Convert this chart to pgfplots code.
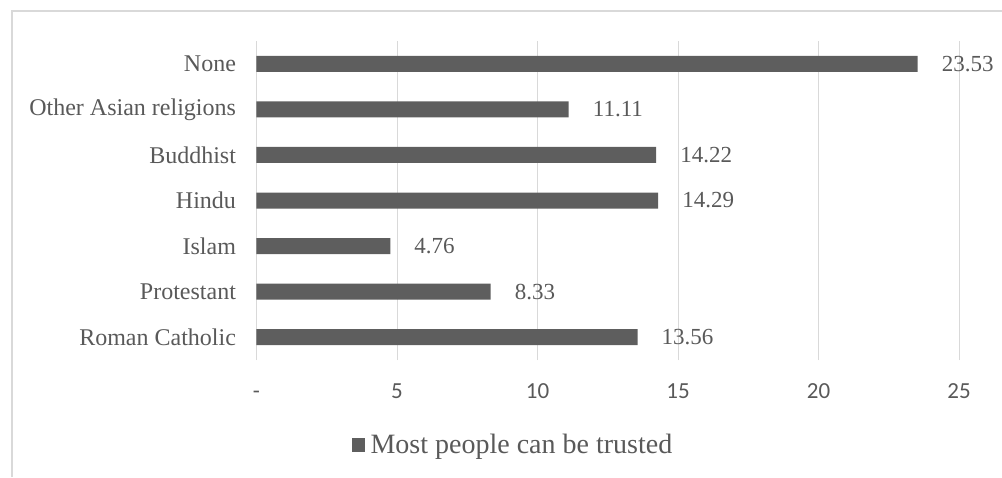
\documentclass[border=0pt]{standalone}
\usepackage{pgfplots}
\pgfplotsset{compat=1.18}
\usepackage{fontspec}
\setmainfont{Liberation Serif}
\newfontfamily\calibri{Carlito}
\definecolor{barc}{HTML}{5E5E5E}
\definecolor{txt}{HTML}{595959}
\definecolor{gridc}{HTML}{D9D9D9}
\begin{document}
\begin{tikzpicture}[x=1pt,y=1pt]
\path[use as bounding box] (0,0) rectangle (1002,477);
\draw[gridc, line width=1.3pt] (12,0) -- (12,466) -- (1002,466);
\begin{axis}[
 at={(256.5pt,117pt)}, anchor=south west,
 scale only axis, width=702.5pt, height=319pt,
 xmin=0, xmax=25, ymin=-0.5, ymax=6.5,
 xbar, bar width=16pt,
 axis line style={draw=none},
 xmajorgrids, grid style={gridc, line width=1pt},
 xtick={0,5,10,15,20,25}, xticklabels={-,5,10,15,20,25},
 ytick={0,1,2,3,4,5,6},
 yticklabels={Roman Catholic, Protestant, Islam, Hindu, Buddhist, Other Asian religions, None},
 major tick length=0pt,
 x tick label style={font=\calibri\fontsize{23}{26}\selectfont, text=txt, text height=14.5pt, text depth=0pt, yshift=-20pt},
 y tick label style={font=\fontsize{24}{28}\selectfont, text=txt, xshift=-17pt},
 point meta=explicit symbolic,
 nodes near coords,
 every node near coord/.append style={font=\fontsize{23}{26}\selectfont, text=txt, inner sep=0pt, anchor=west, xshift=24pt},
 legend style={at={(axis description cs:0.365,-0.266)}, anchor=center, draw=none, fill=none,
   font=\fontsize{28}{32}\selectfont, text=txt, inner sep=0pt},
 legend image code/.code={\fill[barc] (0pt,-7pt) rectangle (13pt,7pt); \path (17pt,0pt);},
 legend cell align=left,
]
\addplot[fill=barc, draw=none] coordinates {
 (13.56,0) [13.56]
 (8.33,1) [8.33]
 (4.76,2) [4.76]
 (14.29,3) [14.29]
 (14.22,4) [14.22]
 (11.11,5) [11.11]
 (23.53,6) [23.53]
};
\addlegendentry{Most people can be trusted}
\end{axis}
\end{tikzpicture}
\end{document}
